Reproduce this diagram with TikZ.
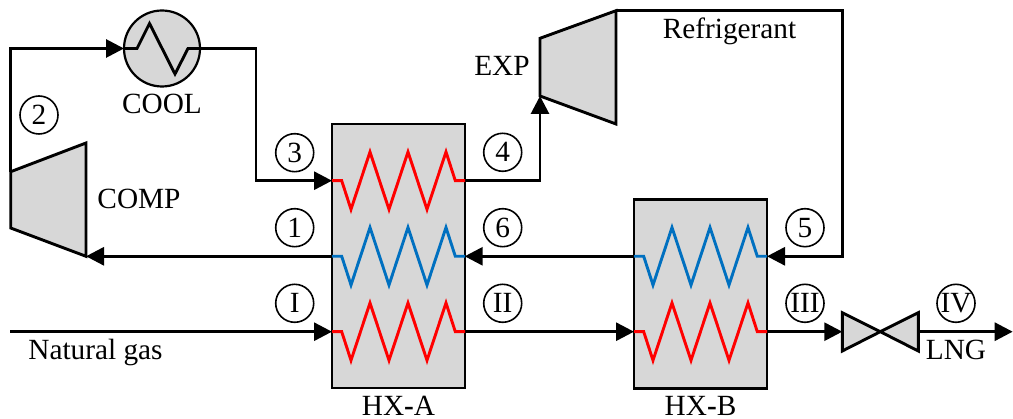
\documentclass[tikz,border=0pt]{standalone}
\usepackage{fontspec}
\setmainfont{Liberation Serif}
\usetikzlibrary{arrows.meta}
\definecolor{eqfill}{RGB}{215,215,215}
\definecolor{coilblue}{RGB}{0,112,192}
\definecolor{coilred}{RGB}{255,0,0}
\tikzset{
  flow/.style={line width=2.9pt,black,line join=miter},
  flowarrow/.style={flow,-{Triangle[length=18pt,width=18pt]}},
  hxbox/.style={draw=black,fill=eqfill,line width=2.2pt,inner sep=0pt,outer sep=0pt},
  equip/.style={draw=black,fill=eqfill,line width=2.9pt,line join=miter},
  coil/.style={line width=2.9pt,line join=miter},
  tag/.style={circle,draw=black,line width=1.6pt,fill=white,minimum size=38pt,inner sep=0pt,outer sep=0pt,font=\fontsize{29.3}{29.3}\selectfont},
  lab/.style={inner sep=0pt,outer sep=0pt,font=\fontsize{29.3}{29.3}\selectfont,anchor=base},
}
\newcommand{\hxcoil}[3]{% x offset, y, colour
  \draw[coil,#3] (#1,#2) -- ++(9.7,0) -- ++(9.3,28.7) -- ++(19,-57.5) -- ++(19,57.5) -- ++(19,-57.5) -- ++(19,57.5) -- ++(19,-57.5) -- ++(9.3,28.8) -- ++(9.7,0);
}
\begin{document}
\begin{tikzpicture}[x=1pt,y=-1pt]
\useasboundingbox (0,0) rectangle (1013,419);

% heat exchangers
\node[hxbox,minimum width=132.7pt,minimum height=264pt] (hxa) at (398.3,256) {};
\node[hxbox,minimum width=133pt,minimum height=189pt] (hxb) at (700.5,294) {};

% ports
\coordinate (a1w) at (332,180.7); \coordinate (a1e) at (464.7,180.7);
\coordinate (a2w) at (332,256.3); \coordinate (a2e) at (464.7,256.3);
\coordinate (a3w) at (332,331.7); \coordinate (a3e) at (464.7,331.7);
\coordinate (b2w) at (634,256.3); \coordinate (b2e) at (767,256.3);
\coordinate (b3w) at (634,331.7); \coordinate (b3e) at (767,331.7);

% compressor, expander, cooler, valve
\coordinate (compin) at (86,256.3);
\coordinate (compout) at (10.7,171.7);
\draw[equip] (compout) -- (86,143) -- (compin) -- (10.7,228) -- cycle;
\coordinate (expin) at (540,96);
\coordinate (expout) at (616,10.7);
\draw[equip] (540,38.3) -- (expout) -- (616,124) -- (expin) -- cycle;
\node[circle,draw=black,fill=eqfill,line width=2.2pt,minimum size=76pt,inner sep=0pt,outer sep=0pt] (cool) at (162,48.5) {};
\coordinate (valvein) at (842.3,331.7);
\coordinate (valveout) at (918.3,331.7);
\draw[equip] (842.3,312.7) -- (880.3,331.7) -- (918.3,312.7) -- (918.3,351) -- (880.3,331.7) -- (842.3,351) -- cycle;

% connectors
\coordinate (start) at (10,331.7);
\coordinate (finish) at (1012.7,331.7);
\coordinate (c2) at (10.7,48.5);
\coordinate (c3a) at (256,48.5);
\coordinate (c3b) at (256,180.7);
\coordinate (c4) at (540,180.7);
\coordinate (c5a) at (842.3,10.7);
\coordinate (c5b) at (842.3,256.3);
\draw[flowarrow] (compout) -- (c2) -- (cool.west);
\draw[flowarrow] (cool.east) -- (c3a) -- (c3b) -- (a1w);
\draw[flowarrow] (a1e) -- (c4) -- (expin);
\draw[flowarrow] (expout) -- (c5a) -- (c5b) -- (b2e);
\draw[flowarrow] (b2w) -- (a2e);
\draw[flowarrow] (a2w) -- (compin);
\draw[flowarrow] (start) -- (a3w);
\draw[flowarrow] (a3e) -- (b3w);
\draw[flowarrow] (b3e) -- (valvein);
\draw[flowarrow] (valveout) -- (finish);

% coils
\hxcoil{332}{180.7}{coilred}
\hxcoil{332}{256.3}{coilblue}
\hxcoil{332}{331.7}{coilred}
\hxcoil{634}{256.3}{coilblue}
\hxcoil{634}{331.7}{coilred}
\draw[coil,black] (cool.west) -- (137,48.5) -- (149.5,23.5) -- (175,74) -- (188,48.5) -- (cool.east);

% stream tags
\node[tag] (t2) at (39,115) {2};
\node[tag] (t3) at (294.7,152.7) {3};
\node[tag] (t1) at (294.7,227.7) {1};
\node[tag] (tI) at (294.7,303.3) {I};
\node[tag] (t4) at (502.7,152.3) {4};
\node[tag] (t6) at (502.7,227.7) {6};
\node[tag] (tII) at (502.7,303.3) {II};
\node[tag] (t5) at (805,227.7) {5};
\node[tag] (tIII) at (805,303.3) {III};
\node[tag] (tIV) at (956,303.3) {IV};

% labels
\node[lab] (lcool) at (162,114) {COOL};
\node[lab] (lcomp) at (139,209) {COMP};
\node[lab] (lexp) at (502,76) {EXP};
\node[lab] (lref) at (729.5,38.5) {Refrigerant};
\node[lab] (llng) at (956,359.5) {LNG};
\node[lab] (lng) at (95.5,360) {Natural gas};
\node[lab] (lhxa) at (398.5,415.8) {HX\textbf{-}A};
\node[lab] (lhxb) at (700.5,415.8) {HX\textbf{-}B};
\end{tikzpicture}
\end{document}
